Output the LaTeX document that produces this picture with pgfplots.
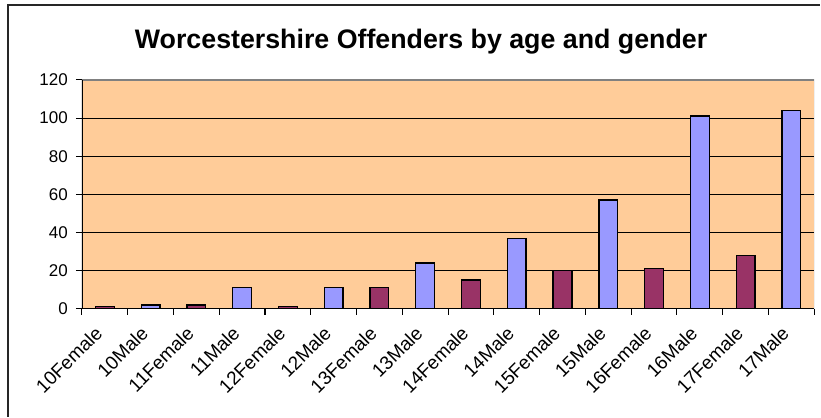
\documentclass[border=0pt]{standalone}
\usepackage{fontspec}
\setmainfont{Liberation Sans}
\usepackage{pgfplots}
\pgfplotsset{compat=1.18}
\definecolor{plotbg}{HTML}{FFCC99}
\definecolor{fem}{HTML}{993366}
\definecolor{mal}{HTML}{9999FF}
\begin{document}
\begin{tikzpicture}
\fill[white] (0bp,0bp) rectangle (821bp,417bp);
\draw[line width=1.6bp, black!85] (8bp,0bp) -- (8bp,412bp) -- (821bp,412bp);
\node[anchor=base, font=\fontsize{26.8bp}{30bp}\selectfont\bfseries] at (421.5bp,368bp) {Worcestershire Offenders by age and gender};
\begin{axis}[
  at={(82bp,108bp)}, anchor=south west,
  scale only axis, width=733bp, height=229bp,
  xmin=-0.5, xmax=15.5, ymin=0, ymax=120,
  ytick={0,20,...,120},
  xtick={-0.5,0.5,...,15.5},
  x tick label as interval=true,
  xticklabels={10Female,10Male,11Female,11Male,12Female,12Male,13Female,13Male,14Female,14Male,15Female,15Male,16Female,16Male,17Female,17Male},
  tick align=outside, tick pos=left,
  major tick length=6bp,
  tick style={black, line width=1.1bp},
  ymajorgrids, grid style={black, line width=1bp},
  axis background/.style={fill=plotbg},
  axis line style={draw=none},
  /pgf/number format/assume math mode=true,
  yticklabel style={font=\fontsize{17bp}{20bp}\selectfont, inner sep=0pt, xshift=-8bp},
  xticklabel style={font=\fontsize{19bp}{22bp}\selectfont, xshift=-11bp, yshift=-10bp, rotate=45, anchor=north east, inner sep=0pt},
  ybar, bar width=0.41, bar shift=0pt,
]
\addplot[draw=black, line width=1.3bp, fill=fem] coordinates {(0,1) (2,2) (4,1) (6,11) (8,15) (10,20) (12,21) (14,28)};
\addplot[draw=black, line width=1.3bp, fill=mal] coordinates {(1,2) (3,11) (5,11) (7,24) (9,37) (11,57) (13,101) (15,104)};
\draw[gray, line width=1.2bp] (rel axis cs:0,1) -- (rel axis cs:1,1) -- (rel axis cs:1,0);
\draw[black, line width=1.3bp] (rel axis cs:0,1) -- (rel axis cs:0,0) -- (rel axis cs:1,0);
\end{axis}
\end{tikzpicture}
\end{document}
